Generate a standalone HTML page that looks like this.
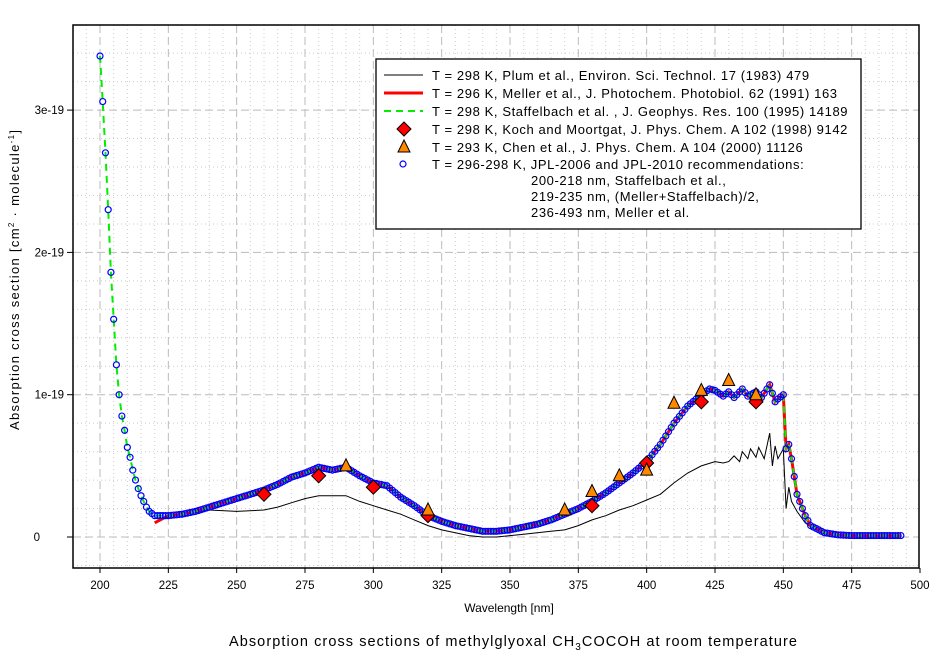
<!DOCTYPE html>
<html><head><meta charset="utf-8"><style>
body{margin:0;background:#fff}
svg text{font-family:"Liberation Sans",Arial,sans-serif;fill:#000}
</style></head><body>
<svg id="s" width="944" height="659" xmlns="http://www.w3.org/2000/svg">
<rect width="944" height="659" fill="#fff"/>
<g id="grid"></g>
<g id="data"></g>
<rect x="73" y="25" width="846" height="543" fill="none" stroke="#000" stroke-width="1.5"/>
<g id="ticks"></g>
<text x="509" y="612" font-size="12" text-anchor="middle">Wavelength [nm]</text>
<text transform="translate(19,280) rotate(-90)" font-size="13" text-anchor="middle" textLength="300" lengthAdjust="spacing">Absorption cross section [cm<tspan font-size="8" dy="-5">2</tspan><tspan dy="5"> · molecule</tspan><tspan font-size="8" dy="-5">-1</tspan><tspan dy="5">]</tspan></text>
<text x="513" y="646" font-size="14.5" text-anchor="middle" textLength="568" lengthAdjust="spacing">Absorption cross sections of methylglyoxal CH<tspan font-size="10" dy="4">3</tspan><tspan dy="-4">COCOH at room temperature</tspan></text>
<g id="legend">
<rect x="376" y="59" width="485" height="170" fill="#fff" stroke="#000" stroke-width="1.3"/>
<line x1="384" x2="423" y1="75" y2="75" stroke="#000"/>
<line x1="384" x2="423" y1="93" y2="93" stroke="#f00" stroke-width="3"/>
<line x1="384" x2="423" y1="111" y2="111" stroke="#0e0" stroke-width="2" stroke-dasharray="7,5"/>
<polygon points="404,122 411,129 404,136 397,129" fill="#f00" stroke="#000"/>
<polygon points="404,140 410,152 398,152" fill="#f80" stroke="#000"/>
<circle cx="403" cy="164" r="3" fill="none" stroke="#00f" stroke-width="1.2"/>
<g font-size="13" letter-spacing="0.6">
<text x="432" y="80">T = 298 K, Plum et al., Environ. Sci. Technol. 17 (1983) 479</text>
<text x="432" y="98">T = 296 K, Meller et al., J. Photochem. Photobiol. 62 (1991) 163</text>
<text x="432" y="116">T = 298 K, Staffelbach et al. , J. Geophys. Res. 100 (1995) 14189</text>
<text x="432" y="134">T = 298 K, Koch and Moortgat, J. Phys. Chem. A 102 (1998) 9142</text>
<text x="432" y="152">T = 293 K, Chen et al., J. Phys. Chem. A 104 (2000) 11126</text>
<text x="432" y="169">T = 296-298 K, JPL-2006 and JPL-2010 recommendations:</text>
<text x="531" y="185">200-218 nm, Staffelbach et al.,</text>
<text x="531" y="201">219-235 nm, (Meller+Staffelbach)/2,</text>
<text x="531" y="217">236-493 nm, Meller et al.</text>
</g></g>
</svg>
<script>
var NS="http://www.w3.org/2000/svg";
function X(w){return 100+(w-200)*2.7333;}
function Y(v){return 537-142.3*v;}
function el(p,t,a){var e=document.createElementNS(NS,t);for(var k in a)e.setAttribute(k,a[k]);document.getElementById(p).appendChild(e);return e;}
for(var w=190;w<=500;w+=5){var x=X(w);var maj=(w%25==0);
 if(w>190&&w<500)el("grid","line",{x1:x,x2:x,y1:25,y2:568,stroke:maj?"#bbb":"#ccc","stroke-width":1,"stroke-dasharray":maj?"8,4":"1,3"});}
for(var i=-1;i<=18;i++){var v=i*0.2;var y=Y(v);if(y<26||y>567)continue;var maj=(i%5==0);
 el("grid","line",{x1:73,x2:919,y1:y,y2:y,stroke:maj?"#bbb":"#ccc","stroke-width":1,"stroke-dasharray":maj?"8,4":"1,3"});}
for(var w=200;w<=500;w+=25){var x=X(w);el("ticks","line",{x1:x,x2:x,y1:568,y2:573,stroke:"#000"});
 var t=el("ticks","text",{x:x,y:589,"font-size":11.5,"text-anchor":"middle"});t.textContent=w;}
var yl=[[0,"0"],[1,"1e-19"],[2,"2e-19"],[3,"3e-19"]];
yl.forEach(function(a){var y=Y(a[0]);el("ticks","line",{x1:67,x2:73,y1:y,y2:y,stroke:"#000"});
 var t=el("ticks","text",{x:a[0]==0?40:64,y:y+4,"font-size":11.5,"text-anchor":"end"});t.textContent=a[1];});
var main=[[200,3.38],[201,3.06],[202,2.7],[203,2.3],[204,1.86],[205,1.53],[206,1.21],[207,1.0],[208,0.85],[209,0.75],[210,0.63],[211,0.56],[212,0.47],[213,0.4],[214,0.34],[215,0.29],[216,0.25],[217,0.21],[218,0.18],[220,0.15],[225,0.15],[230,0.16],[235,0.18],[240,0.21],[245,0.24],[250,0.27],[255,0.3],[260,0.33],[265,0.37],[270,0.42],[275,0.45],[280,0.49],[285,0.47],[290,0.49],[295,0.43],[300,0.38],[305,0.36],[310,0.28],[315,0.22],[320,0.15],[325,0.11],[330,0.08],[335,0.06],[340,0.04],[345,0.04],[350,0.05],[355,0.07],[360,0.09],[365,0.12],[370,0.16],[375,0.2],[380,0.25],[385,0.31],[390,0.38],[395,0.45],[400,0.53],[405,0.65],[410,0.8],[415,0.92],[420,1.0],[423,1.04],[425,1.03],[428,0.99],[430,1.02],[432,0.98],[435,1.04],[437,0.99],[440,1.02],[442,0.98],[445,1.07],[447,0.95],[448,0.97],[450,1.0],[451,0.62],[452,0.65],[453,0.55],[455,0.3],[458,0.15],[460,0.08],[465,0.03],[470,0.015],[475,0.01],[493,0.01]];
function interp(d,w){for(var i=0;i<d.length-1;i++){if(w>=d[i][0]&&w<=d[i+1][0]){var f=(w-d[i][0])/(d[i+1][0]-d[i][0]);return d[i][1]+f*(d[i+1][1]-d[i][1]);}}return d[d.length-1][1];}
function pts(d){return d.map(function(p){return X(p[0]).toFixed(1)+","+Y(p[1]).toFixed(1);}).join(" ");}
var plum=[[235,0.17],[240,0.19],[250,0.18],[260,0.19],[265,0.21],[270,0.24],[275,0.27],[280,0.29],[285,0.29],[290,0.29],[295,0.25],[300,0.22],[305,0.19],[310,0.16],[315,0.12],[320,0.08],[325,0.05],[330,0.03],[335,0.01],[340,0.0],[345,0.0],[350,0.01],[355,0.02],[360,0.03],[365,0.04],[370,0.05],[375,0.08],[380,0.12],[385,0.15],[390,0.19],[395,0.22],[400,0.26],[405,0.3],[410,0.38],[415,0.45],[420,0.5],[425,0.53],[428,0.52],[430,0.53],[432,0.57],[434,0.53],[435,0.6],[437,0.55],[438,0.62],[440,0.56],[441,0.63],[443,0.55],[445,0.73],[446,0.5],[447,0.64],[448,0.55],[450,0.62],[451,0.2],[452,0.35],[453,0.25],[455,0.18],[458,0.1],[460,0.07],[465,0.03],[470,0.01]];
el("data","polyline",{points:pts(plum),fill:"none",stroke:"#000","stroke-width":1});
var meller=main.filter(function(p){return p[0]>=220;});meller[0]=[220,0.1];
el("data","polyline",{points:pts(meller),fill:"none",stroke:"#f00","stroke-width":3});
el("data","polyline",{points:pts(main),fill:"none",stroke:"#0e0","stroke-width":2,"stroke-dasharray":"7,5"});
for(var w=200;w<=493;w+=1){el("data","circle",{cx:X(w),cy:Y(interp(main,w)),r:3,fill:"none",stroke:"#00f","stroke-width":1.2});}
[[260,0.3],[280,0.43],[300,0.35],[320,0.15],[380,0.22],[400,0.52],[420,0.95],[440,0.95]].forEach(function(p){var x=X(p[0]),y=Y(p[1]);
 el("data","polygon",{points:(x)+","+(y-7)+" "+(x+7)+","+y+" "+x+","+(y+7)+" "+(x-7)+","+y,fill:"#f00",stroke:"#000"});});
[[290,0.5],[320,0.19],[370,0.19],[380,0.32],[390,0.43],[400,0.47],[410,0.94],[420,1.03],[430,1.1],[440,1.0]].forEach(function(p){var x=X(p[0]),y=Y(p[1]);
 el("data","polygon",{points:x+","+(y-7)+" "+(x+6)+","+(y+5)+" "+(x-6)+","+(y+5),fill:"#f80",stroke:"#000"});});
</script>
</body></html>
